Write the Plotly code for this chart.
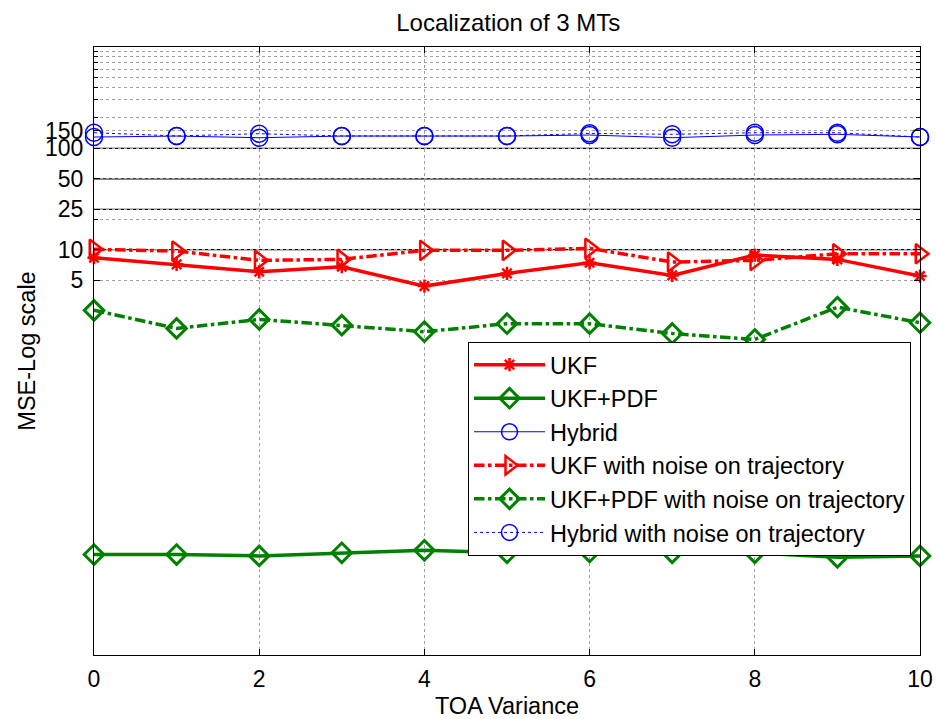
import plotly.graph_objects as go

# TOA variance values (x axis)
toa_variance = [0, 1, 2, 3, 4, 5, 6, 7, 8, 9, 10]

# MSE per method
mse_ukf = [8.32, 7.16, 6.05, 6.78, 4.37, 5.83, 7.42, 5.57, 8.85, 8.02, 5.49]
mse_ukf_pdf = [0.0098, 0.0098, 0.0095, 0.0102, 0.0108, 0.0102, 0.0104, 0.0102, 0.0102, 0.0092, 0.0095]
mse_hybrid = [129.3, 132.2, 127.3, 132.2, 132.2, 132.2, 135.3, 127.3, 135.3, 137.5, 129.3]
mse_ukf_noise = [10.07, 9.69, 7.84, 8.02, 9.85, 9.85, 10.3, 7.55, 7.84, 9.11, 9.11]
mse_ukf_pdf_noise = [2.52, 1.67, 2.05, 1.80, 1.55, 1.86, 1.86, 1.49, 1.30, 2.71, 1.90]
mse_hybrid_noise = [142.6, 132.5, 139.4, 132.5, 132.5, 132.5, 140.5, 137.5, 142.6, 142.6, 129.5]

# Axis ticks
x_ticks = [0, 2, 4, 6, 8, 10]
y_ticks = [5, 10, 25, 50, 100, 150]
y_minor = [20, 200, 300, 400, 500, 600, 700, 800, 900]
reference_levels = [10, 25, 50, 100]

RED = "#FF0000"
GREEN = "#008000"
BLUE = "#0000FF"
FONT = "Liberation Sans, Arial, Helvetica, sans-serif"

fig = go.Figure()

series = [
    ("UKF", mse_ukf, RED, "solid", 3.5, "asterisk-open", 11, 2.5),
    ("UKF+PDF", mse_ukf_pdf, GREEN, "solid", 3.5, "diamond-open", 15, 3),
    ("Hybrid", mse_hybrid, BLUE, "solid", 1, "circle-open", 17, 1.5),
    ("UKF with noise on trajectory", mse_ukf_noise, RED, "dashdot", 3.5, "triangle-right-open", 17, 2.5),
    ("UKF+PDF with noise on trajectory", mse_ukf_pdf_noise, GREEN, "dashdot", 3.5, "diamond-open", 15, 3),
    ("Hybrid with noise on trajectory", mse_hybrid_noise, BLUE, "dot", 1, "circle-open", 17, 1.5),
]

for name, vals, color, dash, lw, sym, msize, mlw in series:
    fig.add_trace(go.Scatter(
        x=toa_variance, y=vals, name=name, mode="lines+markers",
        line=dict(color=color, width=lw, dash=dash),
        marker=dict(symbol=sym, size=msize, color=color, line=dict(color=color, width=mlw)),
        cliponaxis=False,
    ))

# Solid reference lines across the plot
for lvl in reference_levels:
    fig.add_shape(type="line", xref="paper", x0=0, x1=1, yref="y", y0=lvl, y1=lvl,
                  line=dict(color="black", width=1.4), layer="below")

fig.update_layout(
    width=936, height=719,
    margin=dict(l=94, r=16, t=47, b=64),
    paper_bgcolor="white", plot_bgcolor="white",
    font=dict(family=FONT, size=23, color="black"),
    title=dict(text="Localization of 3 MTs", x=0.543, xanchor="center", y=0.968, yanchor="middle",
               font=dict(family=FONT, size=24)),
    showlegend=True,
    legend=dict(x=0.4528, y=0.515, xanchor="left", yanchor="top",
                bgcolor="white", bordercolor="black", borderwidth=1,
                font=dict(family=FONT, size=23.5), tracegroupgap=0, itemwidth=71),
    xaxis=dict(
        range=[0, 10], tickvals=x_ticks, ticks="inside", ticklen=6, tickcolor="black",
        tickfont=dict(family=FONT, size=23),
        showline=True, linecolor="black", linewidth=1, mirror="allticks",
        showgrid=True, gridcolor="#a0a0a0", griddash="dot", gridwidth=1, zeroline=False,
        title=dict(text="TOA Variance", standoff=8, font=dict(family=FONT, size=23.5, color="black")),
        ticklabelstandoff=3, automargin=False,
    ),
    yaxis=dict(
        type="log", range=[-3, 3], tickvals=y_ticks, ticktext=[str(v) for v in y_ticks],
        ticks="inside", ticklen=6, tickcolor="black",
        tickfont=dict(family=FONT, size=23),
        showline=True, linecolor="black", linewidth=1, mirror="allticks",
        showgrid=True, gridcolor="#a0a0a0", griddash="dot", gridwidth=1, zeroline=False,
        minor=dict(tickvals=y_minor, ticks="inside", ticklen=4, tickcolor="black",
                   showgrid=True, gridcolor="#a0a0a0", griddash="dot", gridwidth=1),
        title=dict(text="MSE-Log scale", standoff=2, font=dict(family=FONT, size=23.5, color="black")),
        ticklabelstandoff=5, automargin=False,
    ),
)

fig.write_html("out.html")
